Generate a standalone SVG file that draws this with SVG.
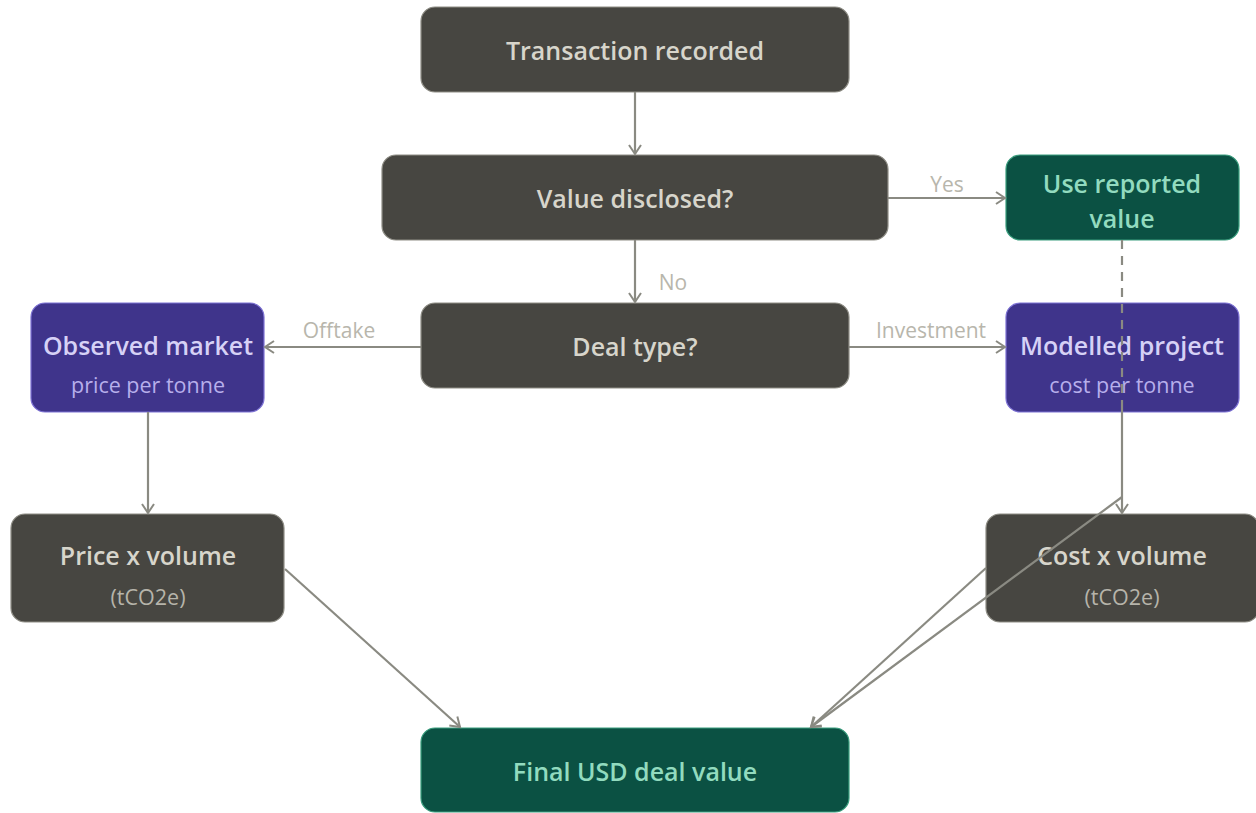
<svg xmlns="http://www.w3.org/2000/svg" width="1256" height="813" viewBox="0 0 1256 813">
<defs>
<marker id="arr" markerWidth="14" markerHeight="14" refX="11" refY="7" orient="auto" markerUnits="userSpaceOnUse">
<path d="M2,1 L11,7 L2,13" fill="none" stroke="#8a8a82" stroke-width="2"/>
</marker>
<style>
.dark{fill:#474641;stroke:#8f8e86;stroke-width:1.2}
.green{fill:#0b5143;stroke:#3a9e7e;stroke-width:1.2}
.purple{fill:#3f348b;stroke:#7d72d4;stroke-width:1.2}
text{font-family:"Open Sans","Noto Sans","Liberation Sans",sans-serif;text-anchor:middle}
.t{font-size:25px;font-weight:600}
.s{font-size:21.5px}
.td{fill:#d7d5cb}
.sd{fill:#b6b4aa}
.tg{fill:#92dbbf}
.tp{fill:#d6d1f6}
.sp{fill:#b7afec}
.lbl{font-size:21px;fill:#b8b6ac}
.e{fill:none;stroke:#8a8a82;stroke-width:2.2}
</style>
</defs>
<rect width="1256" height="813" fill="#ffffff"/>
<g id="n-transaction"><rect class="dark" x="421" y="7" width="428" height="85" rx="14"/><text class="t td" x="635" y="60">Transaction recorded</text></g>
<g id="n-disclosed"><rect class="dark" x="382" y="155" width="506" height="85" rx="14"/><text class="t td" x="635" y="208">Value disclosed?</text></g>
<g id="n-reported"><rect class="green" x="1006" y="155" width="233" height="85" rx="14"/><text class="t tg" x="1122" y="193">Use reported</text><text class="t tg" x="1122" y="228">value</text></g>
<g id="n-dealtype"><rect class="dark" x="421" y="303" width="428" height="85" rx="14"/><text class="t td" x="635" y="356">Deal type?</text></g>
<g id="n-observed"><rect class="purple" x="31" y="303" width="233" height="109" rx="14"/><text class="t tp" x="148" y="355">Observed market</text><text class="s sp" x="148" y="393">price per tonne</text></g>
<g id="n-modelled"><rect class="purple" x="1006" y="303" width="233" height="109" rx="14"/><text class="t tp" x="1122" y="355">Modelled project</text><text class="s sp" x="1122" y="393">cost per tonne</text></g>
<g id="n-price"><rect class="dark" x="11" y="514" width="273" height="108" rx="14"/><text class="t td" x="148" y="565">Price x volume</text><text class="s sd" x="148" y="605">(tCO2e)</text></g>
<g id="n-cost"><rect class="dark" x="986" y="514" width="273" height="108" rx="14"/><text class="t td" x="1122" y="565">Cost x volume</text><text class="s sd" x="1122" y="605">(tCO2e)</text></g>
<g id="n-final"><rect class="green" x="421" y="728" width="428" height="84" rx="14"/><text class="t tg" x="635" y="781">Final USD deal value</text></g>
<g id="connectors">
<line class="e" x1="635" y1="92" x2="635" y2="154" marker-end="url(#arr)"/>
<line class="e" x1="635" y1="240" x2="635" y2="302" marker-end="url(#arr)"/>
<text class="lbl" x="673" y="290">No</text>
<line class="e" x1="888" y1="198" x2="1005" y2="198" marker-end="url(#arr)"/>
<text class="lbl" x="947" y="192">Yes</text>
<line class="e" x1="421" y1="347" x2="265" y2="347" marker-end="url(#arr)"/>
<text class="lbl" x="339" y="338">Offtake</text>
<line class="e" x1="849" y1="347" x2="1005" y2="347" marker-end="url(#arr)"/>
<text class="lbl" x="931" y="338">Investment</text>
<line class="e" x1="148" y1="412" x2="148" y2="513" marker-end="url(#arr)"/>
<line class="e" x1="1122" y1="404" x2="1122" y2="513" marker-end="url(#arr)"/>
<path class="e" d="M1122,240 L1122,404" stroke-dasharray="9,7"/>
<path class="e" d="M1122,497 L811,727" marker-end="url(#arr)"/>
<path class="e" d="M986,568 L811,727" marker-end="url(#arr)"/>
<line class="e" x1="285" y1="569" x2="460" y2="727" marker-end="url(#arr)"/>
</g>
</svg>
